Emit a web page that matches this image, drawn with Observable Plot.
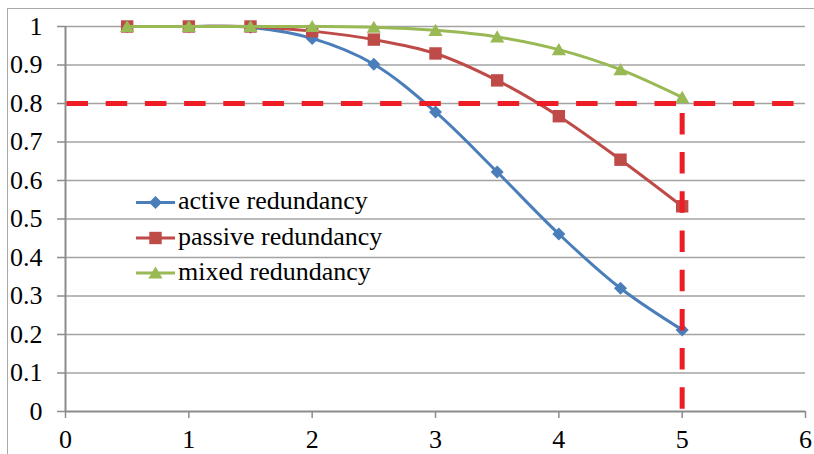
<!DOCTYPE html>
<html>
<head>
<meta charset="utf-8">
<script src="https://cdn.jsdelivr.net/npm/d3@7"></script>
<script src="https://cdn.jsdelivr.net/npm/@observablehq/plot@0.6"></script>
<style>
  html, body { margin: 0; padding: 0; background: #fff; overflow: hidden; }
  #wrap { position: relative; width: 814px; height: 454px; overflow: hidden; }
  #frame { position: absolute; left: 7px; top: 8px; width: 830px; height: 470px;
           border: 1.5px solid #a9a9a9; box-sizing: border-box; }
  #chart { position: absolute; left: 0; top: 0; }
  #legend { position: absolute; left: 0; top: 0; }
</style>
</head>
<body>
<div id="wrap">
  <div id="frame"></div>
  <div id="chart"></div>
  <svg id="legend" width="814" height="454"></svg>
</div>
<script>
// ---- data ----
const xs = [0.5, 1, 1.5, 2, 2.5, 3, 3.5, 4, 4.5, 5];
const active  = [1, 1, 0.998, 0.969, 0.902, 0.778, 0.622, 0.461, 0.320, 0.212];
const passive = [1, 1, 1, 0.988, 0.966, 0.930, 0.860, 0.767, 0.654, 0.533];
const mixed   = [1, 1, 1, 1, 0.998, 0.990, 0.973, 0.940, 0.888, 0.816];
const seriesNames  = ["active redundancy", "passive redundancy", "mixed redundancy"];
const seriesColors = ["#4a7ebb", "#be4b48", "#98b954"];
const yTicks = [0, 0.1, 0.2, 0.3, 0.4, 0.5, 0.6, 0.7, 0.8, 0.9, 1];
const xTicks = [0, 1, 2, 3, 4, 5, 6];
const threshold = 0.8;
const cutoffX = 5;

const FONT = "Liberation Serif";

// ---- symbols (Excel-like) ----
const diamondSym = { draw(ctx, size) { const h = Math.sqrt(size / 2);
  ctx.moveTo(0, -h); ctx.lineTo(h, 0); ctx.lineTo(0, h); ctx.lineTo(-h, 0); ctx.closePath(); } };
const squareSym = { draw(ctx, size) { const s = Math.sqrt(size) / 2;
  ctx.moveTo(-s, -s); ctx.lineTo(s, -s); ctx.lineTo(s, s); ctx.lineTo(-s, s); ctx.closePath(); } };
const triangleSym = { draw(ctx, size) { const s = Math.sqrt(size);
  ctx.moveTo(0, -0.53 * s); ctx.lineTo(0.57 * s, 0.45 * s); ctx.lineTo(-0.57 * s, 0.45 * s); ctx.closePath(); } };
const symbols = [diamondSym, squareSym, triangleSym];
const radii = [5.2, 7, 7];

const seriesValues = [active, passive, mixed];
const rows = seriesNames.flatMap((name, k) =>
  xs.map((x, i) => ({ x, y: seriesValues[k][i], s: name })));

const fmt = d => String(+d.toFixed(1));

const plot = Plot.plot({
  width: 814,
  height: 454,
  marginLeft: 65,
  marginRight: 9,
  marginTop: 26,
  marginBottom: 43,
  style: { fontFamily: FONT, fontSize: "26px", overflow: "visible", background: "transparent" },
  x: { domain: [0, 6], label: null },
  y: { domain: [0, 1], label: null },
  marks: [
    Plot.ruleY(yTicks.filter(v => v > 0), { x1: 0, x2: 6, stroke: "#a3a3a3", strokeWidth: 1.4 }),
    Plot.axisY({ ticks: yTicks, tickSize: 8, tickPadding: 15, tickFormat: fmt, stroke: "#8c8c8c", strokeWidth: 1.5,
                 fill: "black", label: null, fontFamily: FONT, fontSize: 26 }),
    Plot.axisX({ ticks: xTicks, tickSize: 7, tickPadding: 11, tickFormat: fmt, stroke: "#8c8c8c", strokeWidth: 1.5,
                 fill: "black", label: null, fontFamily: FONT, fontSize: 26 }),
    Plot.ruleX([0], { stroke: "#8c8c8c", strokeWidth: 2 }),
    Plot.ruleY([0], { stroke: "#8c8c8c", strokeWidth: 2 }),
    ...seriesNames.flatMap((name, k) => {
      const d = rows.filter(r => r.s === name);
      return [
        Plot.line(d, { x: "x", y: "y", stroke: seriesColors[k], strokeWidth: 3, curve: "catmull-rom" }),
        Plot.dot(d, { x: "x", y: "y", symbol: symbols[k], r: radii[k], fill: seriesColors[k], stroke: null })
      ];
    }),
    Plot.ruleY([threshold], { x1: 0, x2: 6, stroke: "#ee1c25", strokeWidth: 5, strokeDasharray: "21.5,17.7", strokeDashoffset: 37.7 }),
    Plot.ruleX([cutoffX], { y1: 0, y2: threshold, stroke: "#ee1c25", strokeWidth: 5, strokeDasharray: "21.5,17.7", strokeDashoffset: 37 })
  ]
});
document.getElementById("chart").appendChild(plot);

// ---- legend (inside plot area, Excel style) ----
const lg = d3.select("#legend");
const rowY = [202.5, 238, 273];
seriesNames.forEach((name, k) => {
  const g = lg.append("g").attr("transform", `translate(136,${rowY[k]})`);
  g.append("line").attr("x1", 0).attr("x2", 39).attr("y1", 0).attr("y2", 0)
    .attr("stroke", seriesColors[k]).attr("stroke-width", 3);
  const size = Math.PI * radii[k] * radii[k];
  const p = d3.path();
  symbols[k].draw(p, size);
  g.append("path").attr("d", p.toString()).attr("transform", "translate(19.5,0)").attr("fill", seriesColors[k]);
  g.append("text").attr("x", 42).attr("y", 6.5)
    .attr("font-family", FONT).attr("font-size", 26)
    .attr("fill", "black").text(name);
});
</script>
</body>
</html>
